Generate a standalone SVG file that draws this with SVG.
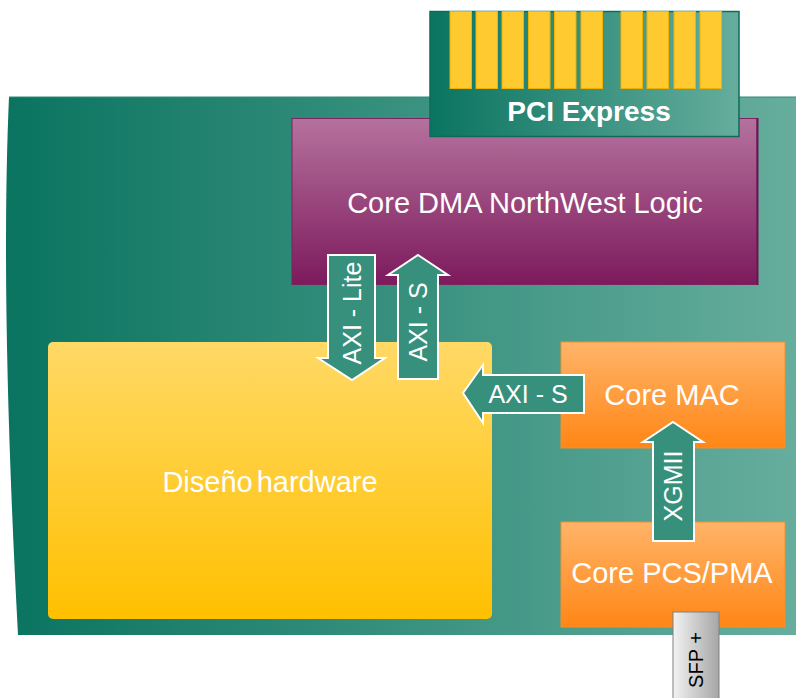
<svg xmlns="http://www.w3.org/2000/svg" width="796" height="698" viewBox="0 0 796 698">
<defs>
<linearGradient id="gTeal" x1="0" y1="0" x2="1" y2="0"><stop offset="0" stop-color="#0a7460"/><stop offset="1" stop-color="#66ad9d"/></linearGradient>
<linearGradient id="gCard" x1="0" y1="0" x2="1" y2="0"><stop offset="0" stop-color="#0a7460"/><stop offset="1" stop-color="#66ad9d"/></linearGradient>
<linearGradient id="gPurple" x1="0" y1="0" x2="0" y2="1"><stop offset="0" stop-color="#b5729e"/><stop offset="1" stop-color="#7d1a5c"/></linearGradient>
<linearGradient id="gYellow" x1="0" y1="0" x2="0" y2="1"><stop offset="0" stop-color="#ffd966"/><stop offset="1" stop-color="#ffc000"/></linearGradient>
<linearGradient id="gOrange" x1="0" y1="0" x2="0" y2="1"><stop offset="0" stop-color="#ffb469"/><stop offset="1" stop-color="#ff8616"/></linearGradient>
<linearGradient id="gGray" x1="0" y1="0" x2="1" y2="0"><stop offset="0" stop-color="#f2f2f2"/><stop offset="1" stop-color="#a6a6a6"/></linearGradient>
</defs>
<style>
text{font-family:"Liberation Sans",Arial,sans-serif;}
.lbl{fill:#ffffff;font-size:29px;text-anchor:middle;}
.arr{fill:#37907c;stroke:#ffffff;stroke-width:2;stroke-linejoin:miter;}
.alb{fill:#ffffff;font-size:25px;text-anchor:middle;}
.fing{fill:#ffca30;stroke:#efb000;stroke-width:1;}
.orange{fill:url(#gOrange);stroke:#f2902e;stroke-width:1;}
</style>

<g id="board">
<path d="M9,97 L796,97 L796,635 L18,635 Q0,300 9,97 Z" fill="url(#gTeal)"/>
<line x1="9" y1="97" x2="796" y2="97" stroke="#2f8a76" stroke-width="1"/>
</g>

<g id="core-dma">
<rect x="292" y="118.5" width="465" height="166" fill="url(#gPurple)" stroke="#7a2560" stroke-width="1"/>
<line x1="757.5" y1="118" x2="757.5" y2="285" stroke="#6a1550" stroke-width="2"/>
<text class="lbl" x="525" y="213">Core DMA NorthWest Logic</text>
</g>

<g id="pci-express">
<rect x="430" y="11.5" width="309" height="125" fill="url(#gCard)" stroke="#0c6c58" stroke-width="1.5"/>
<g>
<rect class="fing" x="450" y="11.5" width="21.5" height="77"/>
<rect class="fing" x="476" y="11.5" width="21.5" height="77"/>
<rect class="fing" x="502" y="11.5" width="21.5" height="77"/>
<rect class="fing" x="528.5" y="11.5" width="21.5" height="77"/>
<rect class="fing" x="554.5" y="11.5" width="21.5" height="77"/>
<rect class="fing" x="581" y="11.5" width="21.5" height="77"/>
<rect class="fing" x="621" y="11.5" width="21.5" height="77"/>
<rect class="fing" x="647" y="11.5" width="21.5" height="77"/>
<rect class="fing" x="674" y="11.5" width="21.5" height="77"/>
<rect class="fing" x="700" y="11.5" width="21.5" height="77"/>
</g>
<text x="589" y="121" fill="#ffffff" font-size="28" font-weight="bold" text-anchor="middle">PCI Express</text>
</g>

<g id="diseno-hardware">
<rect x="48" y="342" width="444" height="277" rx="5" fill="url(#gYellow)"/>
<text class="lbl" x="270" y="492" font-size="28" word-spacing="-4">Diseño hardware</text>
</g>

<g id="core-mac">
<rect class="orange" x="561" y="342" width="224" height="106"/>
<text class="lbl" x="672" y="405">Core MAC</text>
</g>

<g id="core-pcs-pma">
<rect class="orange" x="561" y="522" width="224" height="105"/>
<text class="lbl" x="672" y="583">Core PCS/PMA</text>
</g>

<g id="sfp">
<rect x="673" y="612" width="46" height="100" fill="url(#gGray)" stroke="#808080" stroke-width="1"/>
<text x="696" y="660" font-size="20" fill="#000000" text-anchor="middle" dy="0.35em" transform="rotate(-90 696 660)">SFP +</text>
</g>

<g id="connectors">
<g id="axi-lite">
<path class="arr" d="M328,255 L375,255 L375,358 L385,358 L352,380 L318,358 L328,358 Z"/>
<text class="alb" x="352" y="313" dy="0.35em" transform="rotate(-90 352 313)">AXI - Lite</text>
</g>
<g id="axi-s-up">
<path class="arr" d="M418,255 L448,275 L438,275 L438,379 L398,379 L398,275 L388,275 Z"/>
<text class="alb" x="418" y="322" dy="0.35em" transform="rotate(-90 418 322)">AXI - S</text>
</g>
<g id="axi-s-left">
<path class="arr" d="M463,393 L483,365 L483,375 L584,375 L584,413 L483,413 L483,423 Z"/>
<text class="alb" x="528" y="403">AXI - S</text>
</g>
<g id="xgmii">
<path class="arr" d="M673,422 L703,442 L694,442 L694,541 L653,541 L653,442 L643,442 Z"/>
<text class="alb" x="673" y="486" dy="0.35em" transform="rotate(-90 673 486)">XGMII</text>
</g>
</g>
</svg>
